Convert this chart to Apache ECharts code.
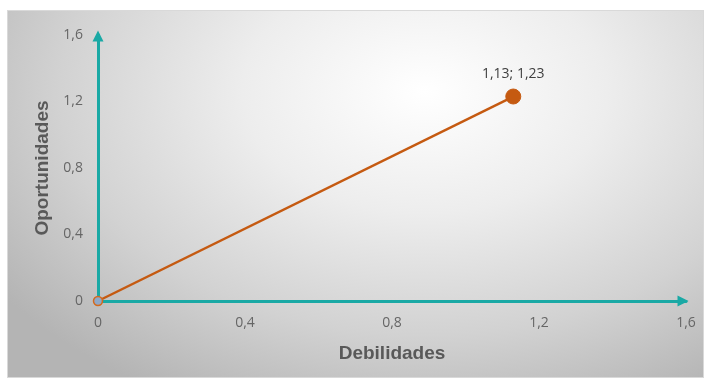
<!DOCTYPE html>
<html>
<head>
<meta charset="utf-8">
<script src="https://cdn.jsdelivr.net/npm/echarts@6/dist/echarts.min.js"></script>
<style>
  html, body { margin: 0; padding: 0; background: #fff; }
  #wrap { position: relative; width: 711px; height: 382px; }
  #bg {
    position: absolute; left: 7px; top: 10px; width: 697px; height: 368px;
    border: 1px solid #d9d9d9; box-sizing: border-box;
    background: radial-gradient(ellipse 75% 95% at 60% 22%, #ffffff 0%, #ededed 35%, #d2d2d2 70%, #b4b4b4 100%);
  }
  #main { position: absolute; left: 0; top: 0; width: 711px; height: 382px; }
</style>
</head>
<body>
<div id="wrap">
  <div id="bg"></div>
  <div id="main"></div>
</div>
<script>
// datos del gráfico
let debilidades = [0, 1.13];
let oportunidades = [0, 1.23];
let xTicks = [0, 0.4, 0.8, 1.2, 1.6];
let yTicks = [0, 0.4, 0.8, 1.2, 1.6];

let fmt = v => String(v).replace('.', ',');
let pts = debilidades.map((x, i) => [x, oportunidades[i]]);

let myChart = echarts.init(document.getElementById('main'));
myChart.setOption({
  textStyle: { fontFamily: 'Open Sans' },
  grid: { left: 98, right: 25, top: 35, bottom: 81 },
  xAxis: {
    type: 'value',
    min: xTicks[0], max: xTicks[xTicks.length - 1], interval: 0.4,
    name: 'Debilidades', nameLocation: 'middle', nameGap: 43,
    nameTextStyle: { fontFamily: 'Liberation Sans', fontWeight: 'bold', fontSize: 19, color: '#595959' },
    axisLine: { lineStyle: { color: '#1aa9a5', width: 3 }, symbol: ['none', 'triangle'], symbolSize: [11, 11], symbolOffset: [0, -3] },
    axisTick: { show: false },
    splitLine: { show: false },
    axisLabel: { color: '#666', fontSize: 14, margin: 15, formatter: fmt }
  },
  yAxis: {
    type: 'value',
    min: yTicks[0], max: yTicks[yTicks.length - 1], interval: 0.4,
    name: 'Oportunidades', nameLocation: 'middle', nameGap: 46, nameRotate: 90,
    nameTextStyle: { fontFamily: 'Liberation Sans', fontWeight: 'bold', fontSize: 19, color: '#595959' },
    axisLine: { lineStyle: { color: '#1aa9a5', width: 3 }, symbol: ['none', 'triangle'], symbolSize: [11, 11], symbolOffset: [0, -1] },
    axisTick: { show: false },
    splitLine: { show: false },
    axisLabel: { color: '#666', fontSize: 14, margin: 15, formatter: fmt }
  },
  series: [{
    type: 'line',
    data: pts.map((p, i) => ({
      value: p,
      symbolSize: i === 0 ? 9 : 15,
      itemStyle: i === 0
        ? { color: '#8fa9c9', borderColor: '#d46a1e', borderWidth: 1.5 }
        : { color: '#c55a11', borderColor: '#c55a11', borderWidth: 1 },
      label: {
        show: i === pts.length - 1,
        position: 'top', distance: 7,
        color: '#404040', fontSize: 14,
        formatter: () => fmt(p[0]) + '; ' + fmt(p[1])
      }
    })),
    symbol: 'circle',
    lineStyle: { color: '#c55a11', width: 2.5 },
    animation: false,
    z: 5
  }]
});
</script>
</body>
</html>
